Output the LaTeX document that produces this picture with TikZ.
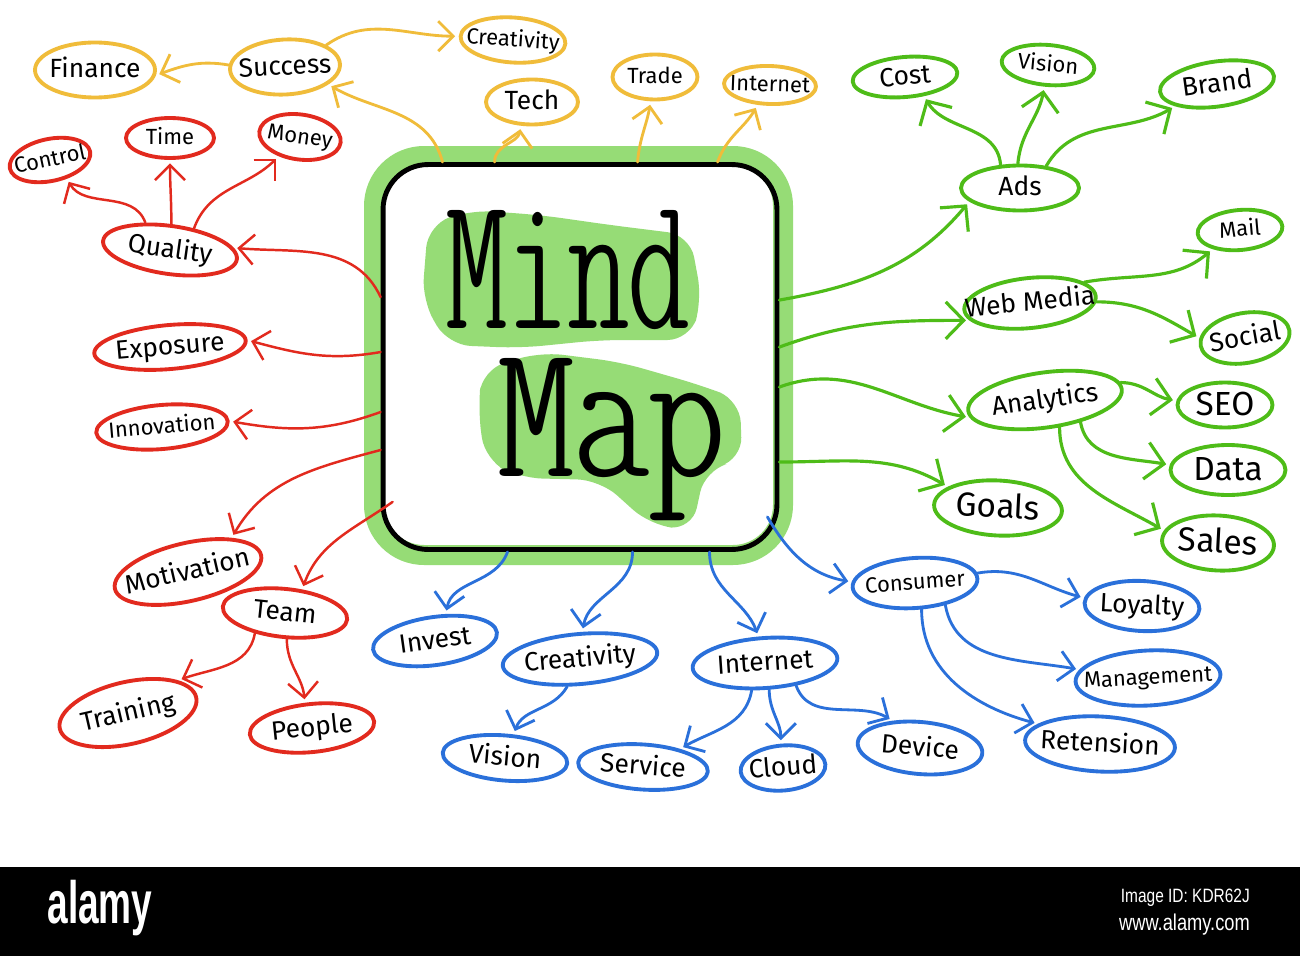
\documentclass[tikz,border=0pt]{standalone}
\usepackage{graphicx}
\usepackage{fontspec}
\setmainfont{Fira Sans}
\newfontfamily\wmfont{Liberation Sans}
\usetikzlibrary{arrows.meta,shapes.geometric,calc}
\definecolor{mmorange}{RGB}{240,188,58}
\definecolor{mmred}{RGB}{226,42,30}
\definecolor{mmgreen}{RGB}{78,188,24}
\definecolor{mmblue}{RGB}{42,112,218}
\definecolor{mmlight}{RGB}{150,220,118}
% text that does not widen its ellipse
\newcommand{\mmt}[1]{\smash{\raisebox{-0.3em}{\makebox[0pt]{#1}}}}
\newcommand{\mmbig}{\fontfamily{lmtt}\fontseries{lc}\fontsize{110}{110}\selectfont}
\tikzset{
  mmnode/.style={ellipse, draw, line width=2.2pt, inner sep=0pt, text=black,
    font=\fontsize{15}{15}\selectfont},
  wh/.style 2 args={minimum width=#1*0.02cm, minimum height=#2*0.02cm},
  fsm/.style={font=\fontsize{12.5}{13}\selectfont},
  flg/.style={font=\fontsize{19}{19}\selectfont},
  onode/.style={mmnode, draw=mmorange},
  rnode/.style={mmnode, draw=mmred},
  gnode/.style={mmnode, draw=mmgreen},
  bnode/.style={mmnode, draw=mmblue},
  arr/.style={-{Straight Barb[length=3mm,width=6mm]}, line width=1.6pt,
    line cap=round, shorten >=2pt},
  oarr/.style={arr, draw=mmorange},
  rarr/.style={arr, draw=mmred, line width=1.4pt},
  garr/.style={arr, draw=mmgreen, line width=1.8pt,
    -{Straight Barb[length=3.6mm,width=7.4mm]}},
  barr/.style={arr, draw=mmblue},
  every picture/.append style={line join=round}
}
\begin{document}
\begin{tikzpicture}[x=0.02cm, y=-0.02cm]
  \useasboundingbox (0,0) rectangle (1300,956);
  \fill[white] (0,0) rectangle (1300,956);

  % centre box
  \draw[mmlight, line width=0.4cm, rounded corners=1cm] (374,156) rectangle (783,555);
  \fill[mmlight, rounded corners=0.45cm] (428,225) -- (470,210) -- (540,215)
    -- (610,225) -- (690,235) -- (702,300) -- (690,340) -- (600,340)
    -- (520,348) -- (448,345) -- (422,300) -- cycle;
  \fill[mmlight, rounded corners=0.45cm] (482,370) -- (540,352) -- (620,362)
    -- (700,385) -- (740,400) -- (742,460) -- (705,470) -- (692,530)
    -- (650,525) -- (600,480) -- (520,478) -- (485,460) -- (478,410) -- cycle;
  \node[draw=black, line width=2.8pt, rounded corners=0.9cm, minimum width=7.88cm,
    minimum height=7.7cm] (mm) at (580,357) {};
  \node[anchor=base, font=\mmbig, inner sep=0pt] (mindtxt) at (568,328)
    {\scalebox{0.9}[1]{Mind}};
  \node[anchor=base, font=\mmbig, inner sep=0pt] (maptxt) at (612,476)
    {\scalebox{1.12}[1]{Map}};

  % orange
  \node[onode, wh={120}{55}] (finance) at (95,70) {\mmt{Finance}};
  \node[onode, wh={110}{55}, rotate=3] (success) at (285,67) {\mmt{Success}};
  \node[onode, fsm, wh={105}{45}, rotate=-4] (creat1) at (513,40) {\mmt{Creativity}};
  \node[onode, wh={92}{45}] (tech) at (532,102) {\mmt{Tech}};
  \node[onode, fsm, wh={85}{45}] (trade) at (655,77) {\mmt{Trade}};
  \node[onode, fsm, wh={92}{38}, rotate=-2] (inet1) at (770,85) {\mmt{Internet}};

  % red
  \node[rnode, fsm, wh={82}{42}, rotate=12] (control) at (50,160) {\mmt{Control}};
  \node[rnode, fsm, wh={88}{40}] (time) at (170,138) {\mmt{Time}};
  \node[rnode, fsm, wh={82}{45}, rotate=-8] (money) at (300,137) {\mmt{Money}};
  \node[rnode, wh={135}{48}, rotate=-8] (quality) at (170,250) {\mmt{Quality}};
  \node[rnode, wh={152}{44}, rotate=5] (exposure) at (170,347) {\mmt{Exposure}};
  \node[rnode, fsm, wh={132}{44}, rotate=5] (innovation) at (162,427) {\mmt{Innovation}};
  \node[rnode, wh={150}{58}, rotate=13] (motivation) at (188,572) {\mmt{Motivation}};
  \node[rnode, wh={125}{48}, rotate=-6] (team) at (285,613) {\mmt{Team}};
  \node[rnode, wh={140}{62}, rotate=13] (training) at (128,713) {\mmt{Training}};
  \node[rnode, wh={125}{48}, rotate=6] (people) at (312,728) {\mmt{People}};

  % green
  \node[gnode, wh={105}{40}, rotate=5] (cost) at (905,77) {\mmt{Cost}};
  \node[gnode, fsm, wh={93}{40}, rotate=-5] (vision1) at (1048,65) {\mmt{Vision}};
  \node[gnode, wh={115}{45}, rotate=8] (brand) at (1217,84) {\mmt{Brand}};
  \node[gnode, wh={118}{45}] (ads) at (1020,188) {\mmt{Ads}};
  \node[gnode, fsm, wh={85}{40}, rotate=5] (mail) at (1240,230) {\mmt{Mail}};
  \node[gnode, wh={132}{50}, rotate=6] (webmedia) at (1030,303) {\mmt{Web Media}};
  \node[gnode, wh={90}{50}, rotate=10] (social) at (1245,338) {\mmt{Social}};
  \node[gnode, wh={155}{55}, rotate=8] (analytics) at (1045,400) {\mmt{Analytics}};
  \node[gnode, flg, wh={95}{45}] (seo) at (1225,405) {\mmt{SEO}};
  \node[gnode, flg, wh={115}{50}] (data) at (1228,470) {\mmt{Data}};
  \node[gnode, flg, wh={112}{55}, rotate=-3] (sales) at (1218,543) {\mmt{Sales}};
  \node[gnode, flg, wh={128}{55}, rotate=-3] (goals) at (998,508) {\mmt{Goals}};

  % blue
  \node[bnode, wh={125}{48}, rotate=8] (invest) at (435,641) {\mmt{Invest}};
  \node[bnode, wh={155}{50}, rotate=5] (creat2) at (580,659) {\mmt{Creativity}};
  \node[bnode, wh={125}{45}, rotate=-5] (vision2) at (505,758) {\mmt{Vision}};
  \node[bnode, wh={130}{45}, rotate=-4] (service) at (643,767) {\mmt{Service}};
  \node[bnode, wh={85}{45}, rotate=5] (cloud) at (783,768) {\mmt{Cloud}};
  \node[bnode, wh={145}{50}, rotate=4] (inet2) at (765,663) {\mmt{Internet}};
  \node[bnode, wh={125}{52}, rotate=-5] (device) at (920,748) {\mmt{Device}};
  \node[bnode, fsm, wh={125}{50}, rotate=4] (consumer) at (915,583) {\mmt{Consumer}};
  \node[bnode, wh={115}{50}, rotate=-3] (loyalty) at (1142,606) {\mmt{Loyalty}};
  \node[bnode, fsm, wh={145}{55}, rotate=3] (management) at (1148,678) {\mmt{Management}};
  \node[bnode, wh={150}{55}, rotate=-3] (retension) at (1100,744) {\mmt{Retension}};

  % orange arrows
  \draw[oarr] ([xshift=1.24cm]mm.north west) to[out=105, in=-30] (success.-25);
  \draw[oarr] (success.25) to[out=35, in=180] (creat1.180);
  \draw[oarr] (success.175) to[out=170, in=20] (finance.-5);
  \draw[oarr] ([xshift=2.28cm]mm.north west) to[out=90, in=-100] (tech.-115);
  \draw[oarr] ([xshift=5.14cm]mm.north west) to[out=85, in=-100] (trade.-100);
  \draw[oarr] ([xshift=6.74cm]mm.north west) to[out=70, in=-120] (inet1.-120);

  % red arrows
  \draw[rarr] ([yshift=-2.7cm]mm.north west) to[out=115, in=-5] (quality.10);
  \draw[rarr] (quality.140) to[out=110, in=-60] (control.-60);
  \draw[rarr] (quality.95) to[out=90, in=-90] (time.-90);
  \draw[rarr] (quality.50) to[out=70, in=-135] (money.-130);
  \draw[rarr] ([yshift=-3.8cm]mm.north west) to[out=190, in=-15] (exposure.east);
  \draw[rarr] ([yshift=-5.0cm]mm.north west) to[out=200, in=-10] (innovation.east);
  \draw[rarr] ([yshift=-5.76cm]mm.north west) to[out=195, in=60] (motivation.25);
  \draw[rarr] ([xshift=0.24cm,yshift=1.0cm]mm.south west) to[out=215, in=70] (team.60);
  \draw[rarr] (team.-140) to[out=-100, in=20] (training.20);
  \draw[rarr] (team.-80) to[out=-90, in=95] (people.100);

  % green arrows
  \draw[garr] ([yshift=-2.76cm]mm.north east) to[out=10, in=-130] (ads.-165);
  \draw[garr] ([yshift=-3.7cm]mm.north east) to[out=20, in=180] (webmedia.190);
  \draw[garr] ([yshift=-4.5cm]mm.north east) to[out=20, in=170] (analytics.185);
  \draw[garr] ([yshift=-6.0cm]mm.north east) to[out=0, in=150] (goals.160);
  \draw[garr] (ads.130) to[out=95, in=-60] (cost.-50);
  \draw[garr] (ads.95) to[out=85, in=-100] (vision1.-95);
  \draw[garr] (ads.40) to[out=60, in=210] (brand.200);
  \draw[garr] (webmedia.15) to[out=10, in=220] (mail.210);
  \draw[garr] (webmedia.-5) to[out=0, in=150] (social.170);
  \draw[garr] (analytics.5) to[out=0, in=170] (seo.175);
  \draw[garr] (analytics.-40) to[out=-80, in=170] (data.175);
  \draw[garr] (analytics.-70) to[out=-90, in=150] (sales.170);

  % blue arrows
  \draw[barr] ([xshift=2.54cm]mm.south west) to[out=-110, in=80] (invest.60);
  \draw[barr] ([xshift=5.04cm]mm.south west) to[out=-90, in=80] (creat2.80);
  \draw[barr] ([xshift=6.58cm]mm.south west) to[out=-90, in=110] (inet2.100);
  \draw[barr] ([xshift=-0.24cm,yshift=0.7cm]mm.south east) to[out=-60, in=170] (consumer.175);
  \draw[barr] (creat2.-120) to[out=-120, in=70] (vision2.75);
  \draw[barr] (inet2.-120) to[out=-100, in=30] (service.30);
  \draw[barr] (inet2.-85) to[out=-90, in=90] (cloud.90);
  \draw[barr] (inet2.-40) to[out=-70, in=150] (device.140);
  \draw[barr] (consumer.5) to[out=10, in=165] (loyalty.175);
  \draw[barr] (consumer.-40) to[out=-80, in=170] (management.170);
  \draw[barr] (consumer.-80) to[out=-90, in=165] (retension.165);

  % footer bar
  \fill[black] (0,867) rectangle (1300,956);
  \node[text=white, font=\wmfont\bfseries\fontsize{34}{34}\selectfont] (wmlogo)
    at (100,908) {\scalebox{0.62}[1]{alamy}};
  \node[anchor=east, text=white, font=\wmfont\fontsize{11}{11}\selectfont] (wmid)
    at (1256,898) {\scalebox{0.8}[1]{Image ID: KDR62J}};
  \node[anchor=east, text=white, font=\wmfont\fontsize{13}{13}\selectfont] (wmurl)
    at (1256,925) {\scalebox{0.8}[1]{www.alamy.com}};
\end{tikzpicture}
\end{document}
